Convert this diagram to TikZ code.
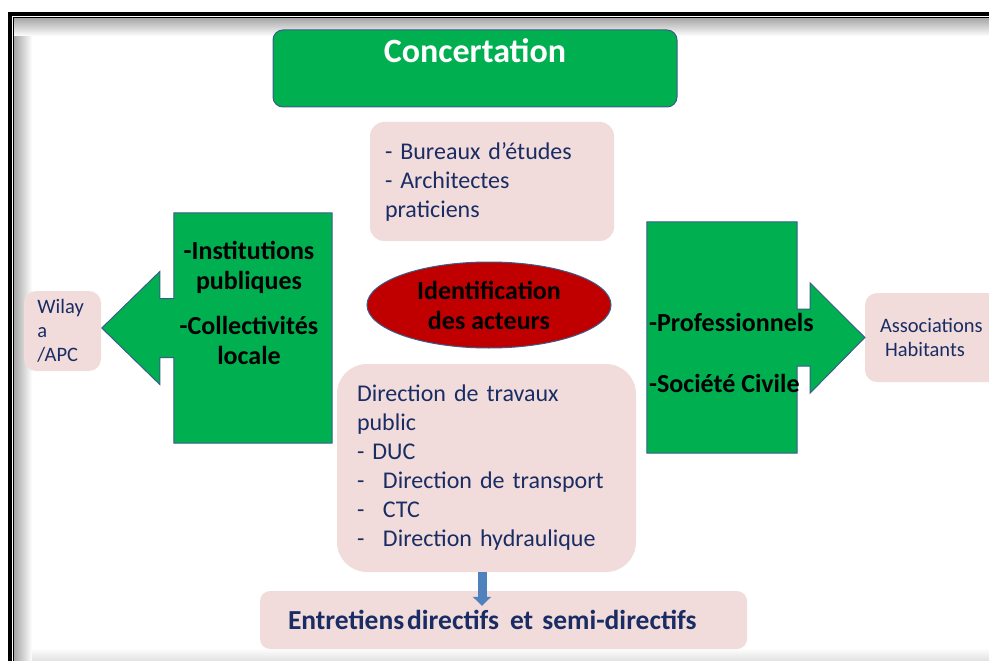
\documentclass[tikz,border=0pt]{standalone}
\usepackage{fontspec}
\setmainfont{Carlito}
\usepackage{tikz}
\usetikzlibrary{positioning,arrows.meta,calc,shapes.geometric}
\usepackage{xcolor}
\definecolor{ptgreen}{RGB}{0,176,80}
\definecolor{ptpink}{RGB}{242,220,219}
\definecolor{ptnavy}{RGB}{25,45,100}
\definecolor{ptedge}{RGB}{56,93,138}
\definecolor{ptred}{RGB}{192,0,0}
\definecolor{ptblue}{RGB}{79,129,189}
\newcommand{\sz}[2]{\fontsize{#1}{#2}\selectfont}
\newcommand{\dsh}{\makebox[26pt][l]{-}}

\begin{document}
\begin{tikzpicture}[
  x=1pt, y=-1pt,
  font=\sz{24}{29},
  box/.style={fill=ptpink, rounded corners=14pt, text=ptnavy, align=left, inner ysep=0pt},
  small/.style={box, font=\sz{20.5}{24}, rounded corners=12pt},
  act/.style={fill=ptgreen, draw=ptedge, line width=1pt},
  lbl/.style={font=\bfseries\sz{26}{30}, inner sep=0pt},
  flow/.style={-{Triangle[length=9pt, width=18pt]}, line width=9pt, ptblue}
]
\useasboundingbox (0,0) rectangle (989,661);
% ---- frame and shadow ----
\shade[left color=black!35, right color=white] (14,18) rectangle (32,661);
\shade[top color=black!35, bottom color=white] (14,18) rectangle (989,36);
\shade[top color=white, bottom color=black!12] (32,648) rectangle (989,661);
\draw[line width=4pt] (10,661) -- (10,14) -- (989,14);
\draw[line width=1.2pt] (13.6,661) -- (13.6,17.6) -- (989,17.6);
% ---- title ----
\node[act, rounded corners=10pt, minimum width=404, minimum height=77, inner sep=0pt,
      text=white, font=\bfseries\sz{34}{40}, text height=24pt, text depth=35pt]
      (conc) at (475,68.5) {Concertation};
% ---- actors in the middle ----
\node[box, text width=214, inner xsep=15pt, minimum height=119] (bur) at (492,181.5)
  {- Bureaux d’études\\- Architectes\\praticiens};
\node[ellipse, fill=ptred, draw=ptedge, line width=1pt, minimum width=244, minimum height=86,
      lbl, align=center] (iden) at (489,305) {Identification\\des acteurs};
\node[box, rounded corners=30pt, text width=259, inner xsep=20pt, minimum height=208] (dir) at (486.5,468)
  {Direction de travaux\\public\\- DUC\\\dsh Direction de transport\\\dsh CTC\\\dsh Direction hydraulique};
\node[box, font=\bfseries\sz{27.5}{32}, rounded corners=10pt, text width=431, inner xsep=28pt, minimum height=58]
  (ent) at (503.5,620) {\mbox{Entretiens\hspace{3pt}directifs\hspace{11pt}et semi-directifs}};
% ---- side boxes ----
\node[small, text width=50, inner xsep=13.5pt, minimum height=80] (wil) at (62.5,331) {Wilay\\a\\/APC};
\node[small, text width=110, inner xsep=15pt, minimum height=89] (asso) at (935,337.5)
  {Associations\\\hspace*{5pt}Habitants};
% ---- arrow callouts ----
\node[minimum width=158, minimum height=230, inner sep=0pt] (pub) at (253,328) {};
\draw[act] (pub.north east) -- (pub.north west) -- ($(pub.west)+(0,-29.5)$) -- ++(-14,0) -- ++(0,-27)
  -- ($(pub.west)+(-72,0)$) -- ($(pub.west)+(-14,56.5)$) -- ++(0,-27) -- ++(14,0)
  -- (pub.south west) -- (pub.south east) -- cycle;
\node[lbl, align=center] (pubtxt) at (249,303) {-Institutions\\publiques\\[15pt]-Collectivités\\locale};
\node[minimum width=150, minimum height=231, inner sep=0pt] (civ) at (722,337.5) {};
\draw[act] (civ.north west) -- (civ.north east) -- ($(civ.east)+(0,-28.5)$) -- ++(13,0) -- ++(0,-26)
  -- (asso.west) -- ($(civ.east)+(13,55.5)$) -- ++(0,-27) -- ++(-13,0)
  -- (civ.south east) -- (civ.south west) -- cycle;
\node[lbl, align=left, anchor=west] (civtxt) at (649,352.5) {-Professionnels\\[31pt]-Société Civile};
% ---- flow to interviews ----
\draw[flow, shorten >=-15pt] ([xshift=-4.5pt]dir.south) -- ([xshift=-4.5pt]dir.south |- ent.north);
\end{tikzpicture}
\end{document}
